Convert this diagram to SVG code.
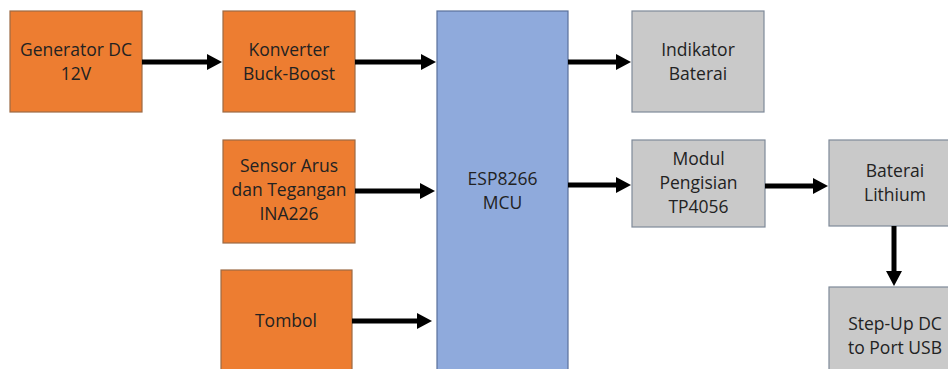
<svg xmlns="http://www.w3.org/2000/svg" width="948" height="369" viewBox="0 0 948 369">
<style>
.or{fill:#ED7D31;stroke:#9C6A45;stroke-width:1.2}
.bl{fill:#8FAADC;stroke:#5A719B;stroke-width:1.2}
.gr{fill:#C9C9C9;stroke:#7F8A99;stroke-width:1.2}
text{font-family:"Open Sans","Liberation Sans",sans-serif;font-size:17.5px;fill:#222;text-anchor:middle}
.c line{stroke:#000;stroke-width:5}
</style>
<defs>
<marker id="ah" viewBox="0 0 15 16" refX="1" refY="8" markerWidth="15" markerHeight="16" markerUnits="userSpaceOnUse" orient="auto">
<path d="M0,0 L15,8 L0,16 z" fill="#000"/>
</marker>
</defs>
<rect width="948" height="369" fill="#fff"/>
<g id="gen"><rect class="or" x="10" y="11" width="132" height="101"/><text x="76" y="56">Generator DC</text><text x="76" y="80">12V</text></g>
<g id="konv"><rect class="or" x="223" y="11" width="132" height="101"/><text x="289" y="56">Konverter</text><text x="289" y="80">Buck-Boost</text></g>
<g id="sensor"><rect class="or" x="223" y="140" width="132" height="103"/><text x="289" y="172">Sensor Arus</text><text x="289" y="196">dan Tegangan</text><text x="289" y="220">INA226</text></g>
<g id="tombol"><rect class="or" x="221" y="270" width="131" height="110"/><text x="286" y="327">Tombol</text></g>
<g id="esp"><rect class="bl" x="437" y="11" width="131" height="370"/><text x="502.5" y="185">ESP8266</text><text x="502.5" y="209">MCU</text></g>
<g id="indikator"><rect class="gr" x="632" y="11" width="132" height="101"/><text x="698" y="56">Indikator</text><text x="698" y="80">Baterai</text></g>
<g id="modul"><rect class="gr" x="632" y="140" width="133" height="87"/><text x="698.5" y="165">Modul</text><text x="698.5" y="189">Pengisian</text><text x="698.5" y="213">TP4056</text></g>
<g id="baterai"><rect class="gr" x="829" y="140" width="132" height="86"/><text x="895" y="177">Baterai</text><text x="895" y="201">Lithium</text></g>
<g id="stepup"><rect class="gr" x="829" y="287" width="132" height="95"/><text x="895" y="330">Step-Up DC</text><text x="895" y="354">to Port USB</text></g>
<g class="c" id="connectors">
<line x1="142" y1="62" x2="208" y2="62" marker-end="url(#ah)"/>
<line x1="355" y1="62" x2="422" y2="62" marker-end="url(#ah)"/>
<line x1="355" y1="191" x2="421" y2="191" marker-end="url(#ah)"/>
<line x1="352" y1="321" x2="418" y2="321" marker-end="url(#ah)"/>
<line x1="568" y1="62" x2="617" y2="62" marker-end="url(#ah)"/>
<line x1="568" y1="185" x2="617" y2="185" marker-end="url(#ah)"/>
<line x1="765" y1="186" x2="814" y2="186" marker-end="url(#ah)"/>
<line x1="894" y1="226" x2="894" y2="272" marker-end="url(#ah)"/>
</g>
</svg>
